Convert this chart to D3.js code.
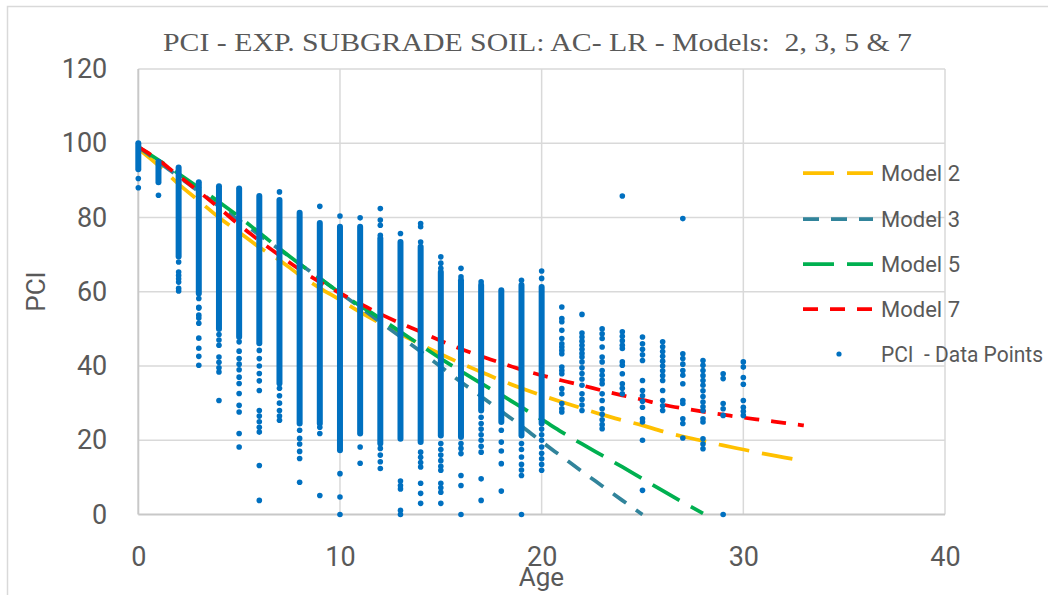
<!DOCTYPE html>
<html><head><meta charset="utf-8">
<script src="https://cdn.jsdelivr.net/npm/d3@7"></script>
<style>
body{margin:0;background:#fff}
svg text{fill:#595959;white-space:pre}
</style>
</head><body>
<svg id="chart" width="1048" height="595"></svg>
<script>
// ---------- DATA ----------
const title = "PCI - EXP. SUBGRADE SOIL: AC- LR - Models:  2, 3, 5 & 7";
const xTicks = [0, 10, 20, 30, 40];
const yTicks = [0, 20, 40, 60, 80, 100, 120];

// ages of the scatter columns
const pointAges = [0,1,2,3,4,5,6,7,8,9,10,11,12,13,14,15,16,17,18,19,20,21,22,23,24,25,26,27,28,29,30];
// dense (continuous) part of each column, ages 0..20
const denseHigh = [100,95,93.5,89.5,88.4,87.8,85.8,84.7,81.3,78.5,77.5,77.5,74.4,73.4,72.1,65.3,63.1,61.8,60.4,61.8,61.3];
const denseLow  = [93,89.5,69.5,59.5,50,47.8,46.1,35.3,24.5,24.5,17.3,21.8,19.1,20.4,19.5,21.3,20.9,28,24.9,21.3,24.5];
// single, separate data points per age
const pointValues = [
  [90.5,88],
  [86],
  [68,65.3,64.4,63.5,62.6,60.9,60.2],
  [58.2,55.8,55.6,53.7,52.9,51.5,47.5,44.8,42.6,40.2],
  [48.5,47,45.6,42.4,41,39.5,38.4,30.7],
  [46.5,44,42,40.5,39,37,35.3,32.6,29.4,27.6,21.8,18.2],
  [44.2,42,40,38,36,33.4,28,26.5,25,23.5,22.2,13.2,3.8],
  [86.9,34,32,30,28,26.5,25.4],
  [22.7,20.5,19,17,15.1,8.7],
  [83,23.5,21.8,5.1],
  [80.4,11,4.7,0],
  [79.9,18.2,13.8],
  [82.4,79.3,77.9,75.2,17.8,16,14.2,12.4],
  [75.7,9,7.8,6.9,1.1,0],
  [78.4,77.5,73.4,16.8,15.4,14,12.8,8.4,5.7,3],
  [69.4,67.7,66.3,19.1,17.5,16,14.5,13,11.9,8.4,7.2,6,3],
  [66.3,64,19.1,17.8,16.4,10.5,7.8,0],
  [62.7,26.2,24.5,23,21.5,20,18.4,16.8,9.6,3.8],
  [22.7,19.5,17.1,13.7,6.3],
  [63.1,19.1,17.5,15.5,13.5,12,10.5,0],
  [65.6,63.6,23,21.5,20,18.2,16.5,15,13.5,11.9],
  [55.9,52.8,51.9,49.6,47.4,46,45.1,44.2,43.3,39.7,38.8,37.9,33.9,32.5,29.9,28.5,27.6],
  [53.9,48.9,47.8,46.7,45.6,44.5,43.4,42.4,41.1,39.5,38,36.5,34.8,32.5,31,29.5,28],
  [50,48.7,47.4,45.1,42.4,41.1,38.8,37.5,36.2,35.2,32.5,30.7,28.5,27,25.5,24.2,23.1],
  [85.8,49.2,48,46.8,45.6,44.7,41.1,40.2,37.9,35.2,34,32.5],
  [47.8,46,44.5,43,41.5,36.1,33.4,32,30.5,28.9,25.8,24.9,20,6.5],
  [46.5,45.2,43.9,42.6,41.3,40,38.7,37.4,36.1,33.4,30.7,29.3,28],
  [79.7,43.3,42,40.5,38.8,37.5,35.2,30.7,29.9,25.8,24.5,20.6],
  [41.5,40.2,38.8,37.4,36.1,34.8,33.3,31.8,30.3,29,28,25.8,24.9,20.4,19,17.7],
  [37.9,36.6,29.9,28.5,26.7,0],
  [41.1,39.7,36.9,35.1,30.7,28.9,27.8,26.7]
];

// model curves (age -> PCI)
const modelAges = [0,1,2,3,4,5,6,7,8,9,10,11,12,13,14,15,16,17,18,19,20,21,22,23,24,25,26,27,28,29,30,31,32,33];
const model2 = [98.5,94,89,84.5,80,76,72,68.5,64.5,61,57.8,54.5,51.5,48.6,45.8,43.2,40.7,38.4,36.1,34,32.1,30.3,28.6,26.9,25.4,24,22.4,21,19.8,18.6,17.5,16.4,15.4,14.4];
const model3 = [99,95,91,87,83,79.2,75.3,71.4,67.5,63.6,59.7,55.8,51.8,47.9,43.9,39.8,35.7,31.8,27.8,23.8,19.6,15.6,11.6,7.7,3.8,0];
const model5 = [99,95.5,91.8,88,84.2,80.2,75.9,71.6,67.5,63.6,59.7,56.2,52.8,49.2,45.6,42,38.6,35.3,32.2,28.9,25.6,22.2,19,15.9,12.8,9.6,6.4,3.3,0.3];
const model7 = [99,95.5,91.2,87,82.6,78,73.8,69.8,66,62.6,59.6,56.8,54,51.5,49.2,46.8,44.6,42.6,40.8,39,37.5,36.1,34.8,33.4,32.1,30.9,29.6,28.6,27.7,26.9,26.1,25.4,24.7,24];

const seriesNames = ["Model 2","Model 3","Model 5","Model 7"];
const seriesData  = [model2, model3, model5, model7];
const pointsName = "PCI  - Data Points";

// ---------- STYLE ----------
const seriesColors = ["#FFC000","#31849B","#00B050","#FF0000"];
const seriesDash   = ["31 13","16 12","31 13","15 12"];
const dotColor = "#0070C0";
const sansFont = "Roboto, 'Open Sans', sans-serif";
const serifFont = "'Liberation Serif', 'DejaVu Serif', serif";

// ---------- DRAW ----------
const svg = d3.select("#chart");
svg.append("rect").attr("width",1048).attr("height",595).attr("fill","#fff");
// chart border
svg.append("path").attr("d","M7.5,595 V6.5 H1048").attr("fill","none").attr("stroke","#d9d9d9").attr("stroke-width",1.5);

const x = d3.scaleLinear().domain([0,40]).range([138.3,945]);
const y = d3.scaleLinear().domain([0,120]).range([514.5,69]);

// gridlines
svg.append("g").selectAll("line").data(yTicks.filter(d=>d>0)).join("line")
  .attr("x1",x(0)).attr("x2",x(40)).attr("y1",d=>y(d)).attr("y2",d=>y(d))
  .attr("stroke","#d9d9d9").attr("stroke-width",1.5);
svg.append("g").selectAll("line").data(xTicks.filter(d=>d>0)).join("line")
  .attr("x1",d=>x(d)).attr("x2",d=>x(d)).attr("y1",y(0)).attr("y2",y(120))
  .attr("stroke","#d9d9d9").attr("stroke-width",1.5);
// axis lines
svg.append("line").attr("x1",x(0)).attr("x2",x(0)).attr("y1",y(0)).attr("y2",y(120)).attr("stroke","#c8c8c8").attr("stroke-width",2);
svg.append("line").attr("x1",x(0)).attr("x2",x(40)).attr("y1",y(0)).attr("y2",y(0)).attr("stroke","#c8c8c8").attr("stroke-width",2);

// axes (labels)
const yAxis = svg.append("g").attr("transform",`translate(${x(0)},0)`)
  .call(d3.axisLeft(y).tickValues(yTicks).tickSize(0).tickPadding(31));
const xAxis = svg.append("g").attr("transform",`translate(0,${y(0)})`)
  .call(d3.axisBottom(x).tickValues(xTicks).tickSize(0).tickPadding(32));
[yAxis,xAxis].forEach(a=>{
  a.select(".domain").remove();
  a.selectAll("text").style("font-family",sansFont).style("font-size","27px").style("fill","#595959");
});

// model lines
const line = d3.line().x((d,i)=>x(modelAges[i])).y(d=>y(d)).curve(d3.curveMonotoneX);
seriesData.forEach((s,k)=>{
  svg.append("path").datum(s).attr("d",line).attr("fill","none")
    .attr("stroke",seriesColors[k]).attr("stroke-width",3.75)
    .attr("stroke-dasharray",seriesDash[k]);
});

// data points: dense parts
svg.append("g").selectAll("line").data(denseHigh).join("line")
  .attr("x1",(d,i)=>x(pointAges[i])).attr("x2",(d,i)=>x(pointAges[i]))
  .attr("y1",d=>y(d)).attr("y2",(d,i)=>y(denseLow[i]))
  .attr("stroke",dotColor).attr("stroke-width",6).attr("stroke-linecap","round");
// separate points
const pts = [];
pointValues.forEach((vals,i)=>vals.forEach(v=>pts.push([pointAges[i],v])));
svg.append("g").selectAll("circle").data(pts).join("circle")
  .attr("cx",d=>x(d[0])).attr("cy",d=>y(d[1])).attr("r",2.8).attr("fill",dotColor);

// title
svg.append("text").attr("x",537.5).attr("y",51).attr("text-anchor","middle")
  .style("font-family",serifFont).style("font-size","26px")
  .attr("textLength",749).attr("lengthAdjust","spacingAndGlyphs")
  .text(title);

// axis titles
svg.append("text").attr("x",541.5).attr("y",586).attr("text-anchor","middle")
  .style("font-family",sansFont).style("font-size","26px").text("Age");
svg.append("text").attr("transform","translate(45,291.5) rotate(-90)").attr("text-anchor","middle")
  .style("font-family",sansFont).style("font-size","26px").text("PCI");

// legend
const legendY = [173,219,264,309,354];
seriesNames.forEach((n,k)=>{
  svg.append("line").attr("x1",803).attr("x2",873).attr("y1",legendY[k]).attr("y2",legendY[k])
    .attr("stroke",seriesColors[k]).attr("stroke-width",3.75).attr("stroke-dasharray",seriesDash[k]);
  svg.append("text").attr("x",881).attr("y",legendY[k]+8)
    .style("font-family",sansFont).style("font-size","22px").text(n);
});
svg.append("circle").attr("cx",839).attr("cy",legendY[4]).attr("r",2.6).attr("fill",dotColor);
svg.append("text").attr("x",881).attr("y",legendY[4]+8)
  .style("font-family",sansFont).style("font-size","22px")
  .attr("textLength",162).attr("lengthAdjust","spacingAndGlyphs").text(pointsName);
</script>
</body></html>
